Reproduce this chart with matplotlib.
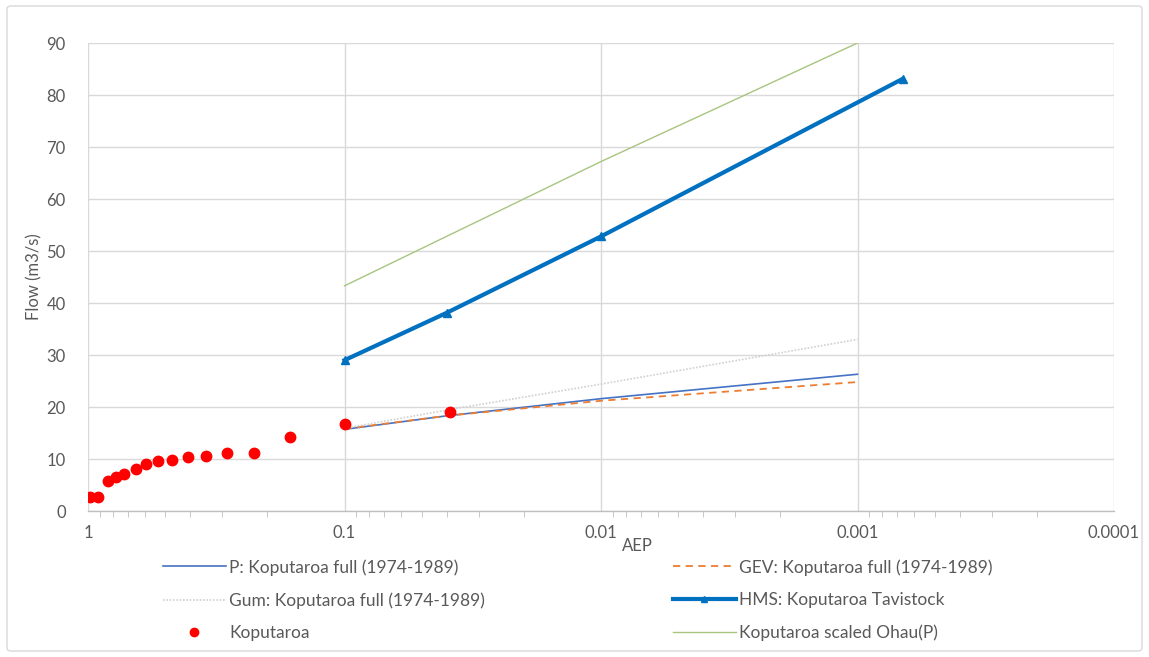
import matplotlib
matplotlib.use("Agg")
import matplotlib.pyplot as plt
from matplotlib.patches import FancyBboxPatch
import numpy as np

plt.rcParams['font.family'] = ['Lato', 'DejaVu Sans']

# Data
obs_aep = [0.982, 0.911, 0.838, 0.778, 0.722, 0.652, 0.594, 0.535, 0.472, 0.409,
           0.347, 0.286, 0.225, 0.163, 0.100, 0.0388]
obs_flow = [2.6, 2.6, 5.8, 6.5, 7.1, 8.0, 9.0, 9.6, 9.8, 10.3,
            10.6, 11.2, 11.2, 14.3, 16.7, 19.0]

p_aep = [0.1, 0.04, 0.01, 0.001]
p_flow = [15.7, 18.3, 21.6, 26.3]

gev_aep = [0.1, 0.04, 0.01, 0.001]
gev_flow = [15.8, 18.3, 21.2, 24.8]

gum_aep = [0.1, 0.04, 0.01, 0.001]
gum_flow = [15.9, 19.4, 24.4, 33.0]

hms_aep = [0.1, 0.04, 0.01, 0.000667]
hms_flow = [29.0, 38.1, 52.8, 83.1]

ohau_aep = [0.1, 0.01, 0.001]
ohau_flow = [43.3, 67.2, 90.0]

y_ticks = [0, 10, 20, 30, 40, 50, 60, 70, 80, 90]
x_ticks = [1, 0.1, 0.01, 0.001, 0.0001]
x_ticklabels = ["1", "0.1", "0.01", "0.001", "0.0001"]

W, H = 1149, 657
fig = plt.figure(figsize=(W / 100, H / 100), dpi=100)

# outer border
border = FancyBboxPatch((7 / W, 6 / H), (W - 14) / W, (H - 12) / H,
                        boxstyle="round,pad=0,rounding_size=0.004",
                        transform=fig.transFigure, fill=False,
                        edgecolor="#d9d9d9", linewidth=1.0)
fig.patches.append(border)

ax = fig.add_axes([88 / W, 1 - 511 / H, (1114 - 88) / W, (511 - 43) / H])
ax.set_xscale('log')
ax.set_xlim(1, 0.0001)
ax.set_ylim(0, 90)

for s in ['top', 'right', 'left']:
    ax.spines[s].set_visible(False)
ax.spines['bottom'].set_color('#bfbfbf')
ax.spines['bottom'].set_linewidth(1.0)

ax.set_yticks(y_ticks)
ax.set_xticks(x_ticks)
ax.set_xticklabels(x_ticklabels)
ax.grid(True, which='major', color='#d9d9d9', linewidth=1.0)
ax.set_axisbelow(True)
ax.tick_params(axis='y', length=0, labelsize=12, colors='#595959', pad=16)
ax.tick_params(axis='x', which='major', length=0, labelsize=12, colors='#595959', pad=10)
ax.tick_params(axis='x', which='minor', length=4, color='#bfbfbf', direction='out', labelbottom=False)
ax.xaxis.set_minor_locator(matplotlib.ticker.LogLocator(base=10, subs=np.arange(2, 10)))
ax.xaxis.set_minor_formatter(matplotlib.ticker.NullFormatter())

ax.set_xlabel("AEP", fontsize=12, color='#595959')
ax.xaxis.set_label_coords((637 - 88) / 1026, (511 - 538) / 468)
ax.set_ylabel("Flow (m3/s)", fontsize=12, color='#595959', labelpad=3)

l_p, = ax.plot(p_aep, p_flow, color='#4472C4', linewidth=1.2,
               label="P: Koputaroa full (1974-1989)")
l_gev, = ax.plot(gev_aep, gev_flow, color='#ED7D31', linewidth=1.3, linestyle=(0, (4, 3)),
                 label="GEV: Koputaroa full (1974-1989)")
l_gum, = ax.plot(gum_aep, gum_flow, color='#d0d0d0', linewidth=1.2, linestyle=(0, (1, 1)),
                 label="Gum: Koputaroa full (1974-1989)")
l_hms, = ax.plot(hms_aep, hms_flow, color='#0070C0', linewidth=3.0, marker='^',
                 markersize=6, label="HMS: Koputaroa Tavistock")
l_obs, = ax.plot(obs_aep, obs_flow, linestyle='none', marker='o', color='#FF0000',
                 markersize=7.5, label="Koputaroa", zorder=5)
l_oh, = ax.plot(ohau_aep, ohau_flow, color='#A9C47F', linewidth=1.0,
                label="Koputaroa scaled Ohau(P)")

leg_kw = dict(frameon=False, fontsize=12.5, handlelength=3.6, handletextpad=0.2,
              labelspacing=0.95, borderpad=0, borderaxespad=0, markerscale=0.8,
              labelcolor='#595959')
leg1 = fig.legend(handles=[l_p, l_gum, l_obs], loc='upper left',
                  bbox_to_anchor=(163 / W, 1 - 559 / H), **leg_kw)
leg2 = fig.legend(handles=[l_gev, l_hms, l_oh], loc='upper left',
                  bbox_to_anchor=(673 / W, 1 - 559 / H), **leg_kw)

fig.savefig("out.png", dpi=100)
